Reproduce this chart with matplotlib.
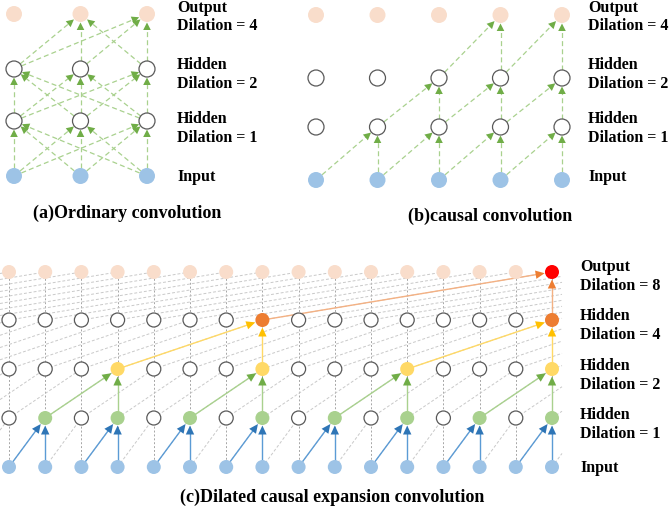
import numpy as np
import matplotlib

matplotlib.use("Agg")
import matplotlib.pyplot as plt
from matplotlib.patches import Circle, Polygon

# ---- data -------------------------------------------------------------
a_labels = ["Input", "Hidden\nDilation = 1", "Hidden\nDilation = 2", "Output\nDilation = 4"]
b_labels = ["Input", "Hidden\nDilation = 1", "Hidden\nDilation = 2", "Output\nDilation = 4"]
c_labels = ["Input", "Hidden\nDilation = 1", "Hidden\nDilation = 2",
            "Hidden\nDilation = 4", "Output\nDilation = 8"]
titles = ["(a)Ordinary convolution", "(b)causal convolution",
          "(c)Dilated causal expansion convolution"]

a_nodes = 3
a_targets = [[0, 1, 2], [0, 1, 2], [1, 2]]          # fully connected into these
b_nodes = 5
b_targets = [[1, 2, 3, 4], [2, 3, 4], [3, 4]]       # fed by t-1 and t
c_nodes = 16
c_dilations = [1, 2, 4, 8]
c_targets = [[1, 3, 5, 7, 9, 11, 13, 15], [3, 7, 11, 15], [7, 15], [15]]

# ---- style ------------------------------------------------------------
FONT = "Liberation Serif"
IN_C = "#9DC3E6"
OUT_C = "#F9DDCB"
EDGE_C = "#595959"
HL_FILL = ["#A9D18E", "#FFD966", "#ED7D31", "#FF0000"]
HL_LINE = ["#5B9BD5", "#A9D18E", "#FFD966", "#F4B183"]
HL_HEAD = ["#2E75B6", "#70AD47", "#FFC000", "#ED7D31"]

fig = plt.figure(figsize=(6.69, 5.10), dpi=100)
ax = fig.add_axes([0, 0, 1, 1])
ax.set_xlim(0, 669)
ax.set_ylim(510, 0)
ax.axis("off")


def node(x, y, r, kind, fill=None):
    if kind == "in":
        p = Circle((x, y), r, fc=IN_C, ec="none", zorder=5)
    elif kind == "out":
        p = Circle((x, y), r, fc=fill or OUT_C, ec="none", zorder=5)
    elif fill is not None:
        p = Circle((x, y), r, fc=fill, ec="none", zorder=5)
    else:
        p = Circle((x, y), r, fc="white", ec=EDGE_C, lw=0.9, zorder=5)
    ax.add_patch(p)


def arrow(p0, p1, r0, r1, line_c, head_c, ls, lw, hl, hw):
    p0, p1 = np.array(p0, float), np.array(p1, float)
    u = (p1 - p0) / np.hypot(*(p1 - p0))
    n = np.array([-u[1], u[0]])
    s = p0 + u * r0
    e = p1 - u * r1
    b = e - u * hl
    ax.plot([s[0], b[0] + u[0] * 1], [s[1], b[1] + u[1] * 1], color=line_c,
            ls=ls, lw=lw, zorder=3, dashes=(4, 2.5) if ls == "--" else (None, None))
    ax.add_patch(Polygon([e, b + n * hw, b - n * hw], closed=True,
                         fc=head_c, ec="none", zorder=4))


def labels(x, ys, texts):
    for y, t in zip(ys, texts):
        ax.text(x, y, t, fontsize=11.5, fontweight="bold",
                family=FONT, va="center", ha="left", linespacing=1.25)


# ---- panel (a) --------------------------------------------------------
ax_x = np.linspace(14, 147, a_nodes)
ay = [177, 122, 70, 15]
for l, tg in enumerate(a_targets):
    for t in tg:
        for s in range(a_nodes):
            arrow((ax_x[s], ay[l]), (ax_x[t], ay[l + 1]), 8, 8.5,
                  "#A9D18E", "#70AD47", "--", 0.9, 7.5, 3.8)
for l, y in enumerate(ay):
    kind = "in" if l == 0 else ("out" if l == len(ay) - 1 else "hid")
    for x in ax_x:
        node(x, y, 8, kind)
labels(177, [177, 129, 74.5, 17], a_labels)
ax.text(127, 213, titles[0], fontsize=13, fontweight="bold", family=FONT,
        ha="center", va="center")

# ---- panel (b) --------------------------------------------------------
bx = np.linspace(316, 562, b_nodes)
by = [181, 128, 79, 16]
for l, tg in enumerate(b_targets):
    for t in tg:
        for s in (t - 1, t):
            arrow((bx[s], by[l]), (bx[t], by[l + 1]), 8, 8.5,
                  "#A9D18E", "#70AD47", "--", 0.9, 7.5, 3.8)
for l, y in enumerate(by):
    kind = "in" if l == 0 else ("out" if l == len(by) - 1 else "hid")
    for x in bx:
        node(x, y, 8, kind)
labels(588, [177, 129, 74.5, 17], b_labels)
ax.text(490, 216, titles[1], fontsize=13, fontweight="bold", family=FONT,
        ha="center", va="center")

# ---- panel (c) --------------------------------------------------------
cx0, cdx = 9, (552 - 9) / (c_nodes - 1)
cy = [468, 419, 370, 321, 273]
XMIN, XMAX = 0, 562


def colx(i):
    return cx0 + cdx * i


# vertical grey guides
for i in range(c_nodes):
    ax.plot([colx(i), colx(i)], [cy[0], cy[-1]], color="#A6A6A6", lw=0.7,
            dashes=(2, 2), zorder=1)

# diagonal grey dilated connections, clipped to the panel
for l, d in enumerate(c_dilations):
    for s in range(-d, c_nodes):
        x0, x1 = colx(s), colx(s + d)
        y0, y1 = cy[l], cy[l + 1]
        t0 = max(0.0, (XMIN - x0) / (x1 - x0))
        t1 = min(1.0, (XMAX - x0) / (x1 - x0))
        if t1 <= t0:
            continue
        xs = [x0 + (x1 - x0) * t0, x0 + (x1 - x0) * t1]
        ys = [y0 + (y1 - y0) * t0, y0 + (y1 - y0) * t1]
        ax.plot(xs, ys, color="#C9C9C9", lw=0.7, dashes=(3, 2), zorder=1)

# highlighted receptive field
hl = {}
for l, (d, tg) in enumerate(zip(c_dilations, c_targets)):
    for t in tg:
        hl[(l + 1, t)] = HL_FILL[l]
        for s in (t - d, t):
            arrow((colx(s), cy[l]), (colx(t), cy[l + 1]), 7, 7.5,
                  HL_LINE[l], HL_HEAD[l], "-", 1.0, 9, 4.2)

for l, y in enumerate(cy):
    kind = "in" if l == 0 else ("out" if l == len(cy) - 1 else "hid")
    for i in range(c_nodes):
        node(colx(i), y, 7, kind, hl.get((l, i)))
labels(580, [468, 425, 376, 326, 277], c_labels)
ax.text(332, 497, titles[2], fontsize=13, fontweight="bold", family=FONT,
        ha="center", va="center")

fig.savefig("out.png", dpi=100)
